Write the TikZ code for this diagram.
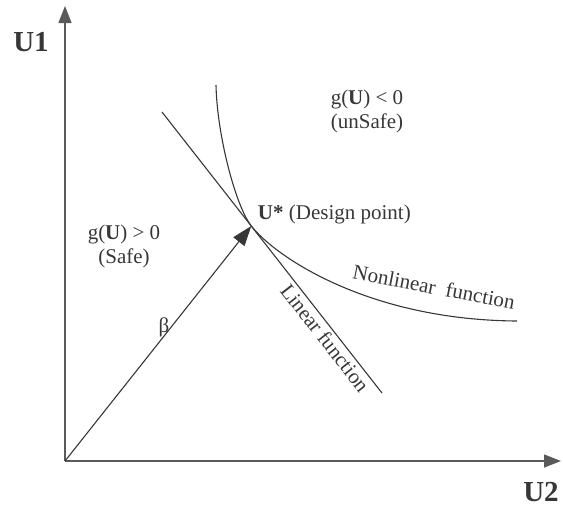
\documentclass[tikz,border=0pt]{standalone}
\usepackage{fontspec}
\setmainfont{Liberation Serif}
\usetikzlibrary{arrows.meta}

\begin{document}
\begin{tikzpicture}[x=1pt,y=-1pt,
  axis/.style={draw={rgb,255:red,90;green,90;blue,90}, line width=1.4pt, -{Triangle[length=17pt,width=13pt]}},
  curve/.style={draw={rgb,255:red,55;green,55;blue,55}, line width=1.1pt},
  txt/.style={font=\fontsize{21}{24}\selectfont, text={rgb,255:red,55;green,55;blue,55}, inner sep=0.75pt},
  axlabel/.style={txt, font=\fontsize{29}{32}\selectfont\bfseries}]
\useasboundingbox (0,0) rectangle (563,507);

%Axes
\coordinate (O) at (65,461);
\coordinate (U1tip) at (65,6);
\coordinate (U2tip) at (561,461);
\draw [axis] (O) -- (U1tip);
\draw [axis] (O) -- (U2tip);

%Linear function
\coordinate (L1) at (162,112);
\coordinate (L2) at (382,393);
\draw [curve] (L1) -- (L2) node [txt, pos=0.78, sloped, below=2pt] (lin) {Linear function};

%Nonlinear function
\coordinate (N1) at (216,85);
\coordinate (Ustar) at (251.3,226);
\coordinate (N2) at (517,321);
\draw [curve] (N1) .. controls (217,135) and (235.6,206) .. (Ustar) .. controls (274.8,256) and (367,320) .. (N2);

%Reliability index
\draw [curve, -{Triangle[length=20pt,width=14pt]}] (O) -- (Ustar);

% Text Node
\node [axlabel] (u1) at (31,42) {U1};
% Text Node
\node [axlabel] (u2) at (541,492) {U2};
% Text Node
\node [txt, align=center] (unsafe) at (367,111) {g(\textbf{U}) < 0\\(unSafe)};
% Text Node
\node [txt, align=center] (safe) at (124,246) {g(\textbf{U}) > 0\\(Safe)};
% Text Node
\node [txt, anchor=west] (design) at (257,214) {\textbf{U*} (Design point)};
% Text Node
\node [txt] (beta) at (164,327) {β};
% Text Node
\node [txt, rotate=-11] (nonlin) at (434,287) {Nonlinear\ \ function};

\end{tikzpicture}
\end{document}
